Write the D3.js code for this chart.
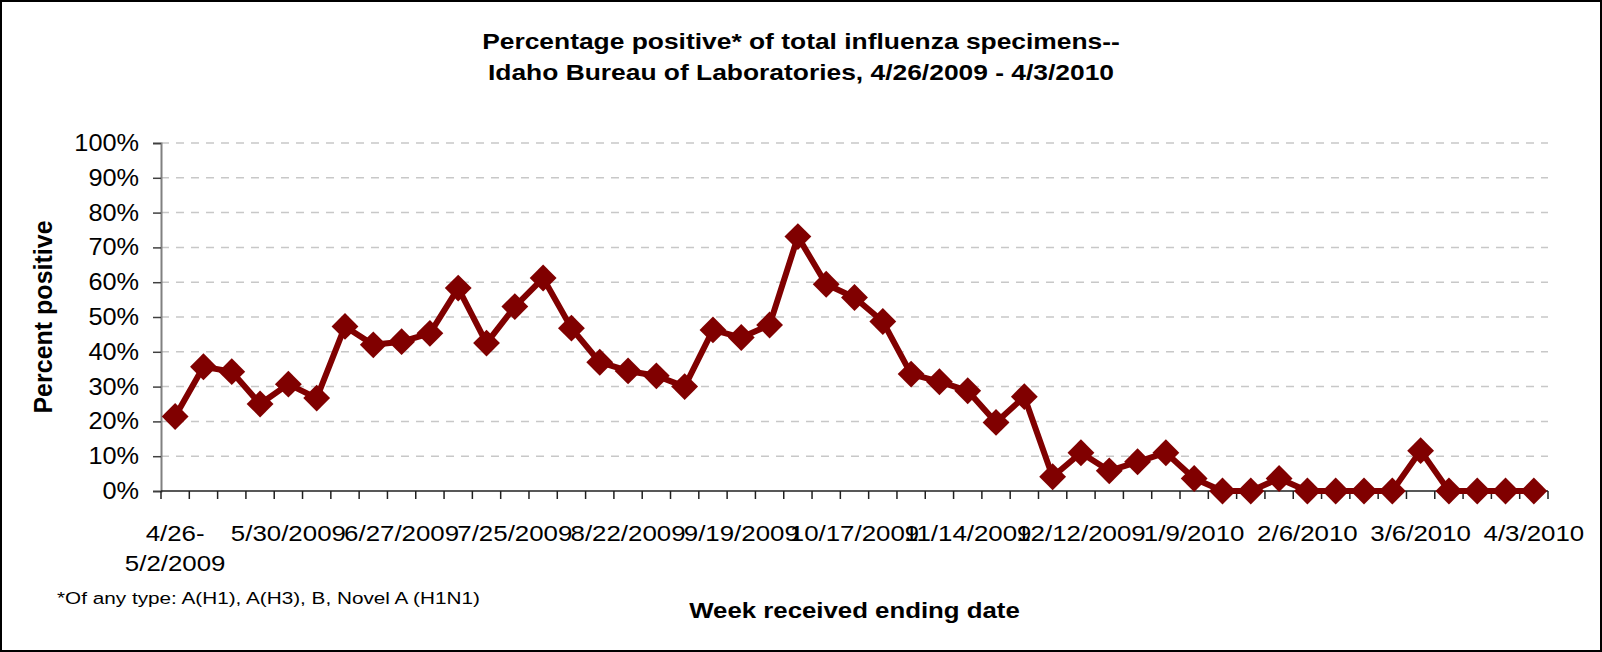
<!DOCTYPE html>
<html>
<head>
<meta charset="utf-8">
<script src="https://cdn.jsdelivr.net/npm/d3@7"></script>
<style>
  body { margin: 0; background: #fff; }
  svg { display: block; font-family: "Liberation Sans", Arial, sans-serif; }
</style>
</head>
<body>
<div id="chart"></div>
<script>
// week received ending date (first week is 4/26-5/2/2009)
var weeks = ["5/2/2009", "5/9/2009", "5/16/2009", "5/23/2009", "5/30/2009",
  "6/6/2009", "6/13/2009", "6/20/2009", "6/27/2009",
  "7/4/2009", "7/11/2009", "7/18/2009", "7/25/2009",
  "8/1/2009", "8/8/2009", "8/15/2009", "8/22/2009", "8/29/2009",
  "9/5/2009", "9/12/2009", "9/19/2009", "9/26/2009",
  "10/3/2009", "10/10/2009", "10/17/2009", "10/24/2009", "10/31/2009",
  "11/7/2009", "11/14/2009", "11/21/2009", "11/28/2009",
  "12/5/2009", "12/12/2009", "12/19/2009", "12/26/2009",
  "1/2/2010", "1/9/2010", "1/16/2010", "1/23/2010", "1/30/2010",
  "2/6/2010", "2/13/2010", "2/20/2010", "2/27/2010",
  "3/6/2010", "3/13/2010", "3/20/2010", "3/27/2010", "4/3/2010"];

// percent positive
var pctPositive = [21.4, 35.7, 34.3, 25.0, 30.7, 26.7, 47.3, 42.0, 42.9, 45.3,
  58.3, 42.5, 53.0, 61.2, 46.8, 37.0, 34.5, 33.1, 30.0, 46.3,
  44.1, 47.7, 73.1, 59.4, 55.6, 48.7, 33.6, 31.4, 28.8, 19.7,
  27.1, 4.1, 11.0, 5.8, 8.4, 11.0, 3.6, 0, 0, 3.6,
  0, 0, 0, 0, 11.6, 0, 0, 0, 0];

// labelled weeks on the x axis
var labelWeeks = ["5/2/2009", "5/30/2009", "6/27/2009", "7/25/2009", "8/22/2009",
  "9/19/2009", "10/17/2009", "11/14/2009", "12/12/2009", "1/9/2010",
  "2/6/2010", "3/6/2010", "4/3/2010"];
var firstLabel = ["4/26-", "5/2/2009"];

var yTicks = [0, 0.1, 0.2, 0.3, 0.4, 0.5, 0.6, 0.7, 0.8, 0.9, 1];

var W = 1602, H = 652;
var plotL = 161, plotR = 1548, plotT = 143, plotB = 491;
var red = "#800000";

var svg = d3.select("#chart").append("svg")
  .attr("width", W)
  .attr("height", H);

svg.append("rect")
  .attr("x", 1).attr("y", 1)
  .attr("width", W - 2).attr("height", H - 2)
  .attr("fill", "#fff")
  .attr("stroke", "#000")
  .attr("stroke-width", 2);

var x = d3.scaleBand().domain(weeks).range([plotL, plotR]);
var y = d3.scaleLinear().domain([0, 1]).range([plotB, plotT]);

// text drawn a little wider than the font, like the original
function wideText(parent, px, py, sx, txt, anchor) {
  return parent.append("g")
    .attr("transform", "translate(" + px + "," + py + ") scale(" + sx + ",1)")
    .append("text")
    .attr("text-anchor", anchor || "middle")
    .text(txt);
}

// grid
svg.append("g")
  .selectAll("line")
  .data(yTicks.slice(1))
  .enter().append("line")
    .attr("x1", plotL).attr("x2", plotR)
    .attr("y1", d => y(d)).attr("y2", d => y(d))
    .attr("stroke", "#c8c8c8")
    .attr("stroke-width", 1.5)
    .attr("stroke-dasharray", "8,7");

// y axis
var yAxis = svg.append("g")
  .attr("transform", "translate(" + plotL + ",0)")
  .call(d3.axisLeft(y).tickValues(yTicks).tickSize(8).tickFormat(""));
yAxis.select(".domain").attr("stroke", "#808080").attr("stroke-width", 2);
yAxis.selectAll(".tick line").attr("stroke", "#404040").attr("stroke-width", 1.5);

var yLab = svg.append("g").attr("font-size", 23).attr("fill", "#000");
yTicks.forEach(function (t) {
  wideText(yLab, 139, y(t) + 8, 1.1, d3.format(".0%")(t), "end");
});

// x axis, ticks between the weeks
var bounds = weeks.map(w => x(w)).concat([plotR]);
var xAx = svg.append("g");
xAx.append("line")
  .attr("x1", plotL).attr("x2", plotR)
  .attr("y1", plotB).attr("y2", plotB)
  .attr("stroke", "#202020").attr("stroke-width", 1.5);
xAx.selectAll("line.tk")
  .data(bounds)
  .enter().append("line")
    .attr("class", "tk")
    .attr("x1", d => d).attr("x2", d => d)
    .attr("y1", plotB).attr("y2", plotB + 8)
    .attr("stroke", "#202020").attr("stroke-width", 1.5);

var xLab = svg.append("g").attr("font-size", 22.5).attr("fill", "#000");
labelWeeks.forEach(function (w, i) {
  var cx = x(w) + x.bandwidth() / 2;
  if (i == 0) {
    wideText(xLab, cx, 541, 1.15, firstLabel[0]);
    wideText(xLab, cx, 571, 1.15, firstLabel[1]);
  } else {
    wideText(xLab, cx, 541, 1.15, w);
  }
});

// series
var line = d3.line()
  .x((d, i) => x(weeks[i]) + x.bandwidth() / 2)
  .y(d => y(d / 100));

svg.append("path")
  .datum(pctPositive)
  .attr("fill", "none")
  .attr("stroke", red)
  .attr("stroke-width", 6)
  .attr("stroke-linejoin", "round")
  .attr("d", line);

var diamond = d3.symbol().type(d3.symbolSquare).size(360);
svg.append("g")
  .selectAll("path")
  .data(pctPositive)
  .enter().append("path")
    .attr("d", diamond)
    .attr("fill", red)
    .attr("transform", (d, i) => "translate(" + (x(weeks[i]) + x.bandwidth() / 2) + "," + y(d / 100) + ") rotate(45)");

// titles
var ttl = svg.append("g").attr("font-size", 22).attr("font-weight", "bold");
wideText(ttl, W / 2, 49, 1.2, "Percentage positive* of total influenza specimens--");
wideText(ttl, W / 2, 80, 1.2, "Idaho Bureau of Laboratories, 4/26/2009 - 4/3/2010");

svg.append("text")
  .attr("transform", "translate(52," + (plotT + plotB) / 2 + ") rotate(-90)")
  .attr("text-anchor", "middle")
  .attr("font-size", 25)
  .attr("font-weight", "bold")
  .text("Percent positive");

var xt = svg.append("g").attr("font-size", 21.5).attr("font-weight", "bold");
wideText(xt, (plotL + plotR) / 2, 618, 1.2, "Week received ending date");

var note = svg.append("g").attr("font-size", 17);
wideText(note, 57, 604, 1.22, "*Of any type: A(H1), A(H3), B, Novel A (H1N1)", "start");
</script>
</body>
</html>
